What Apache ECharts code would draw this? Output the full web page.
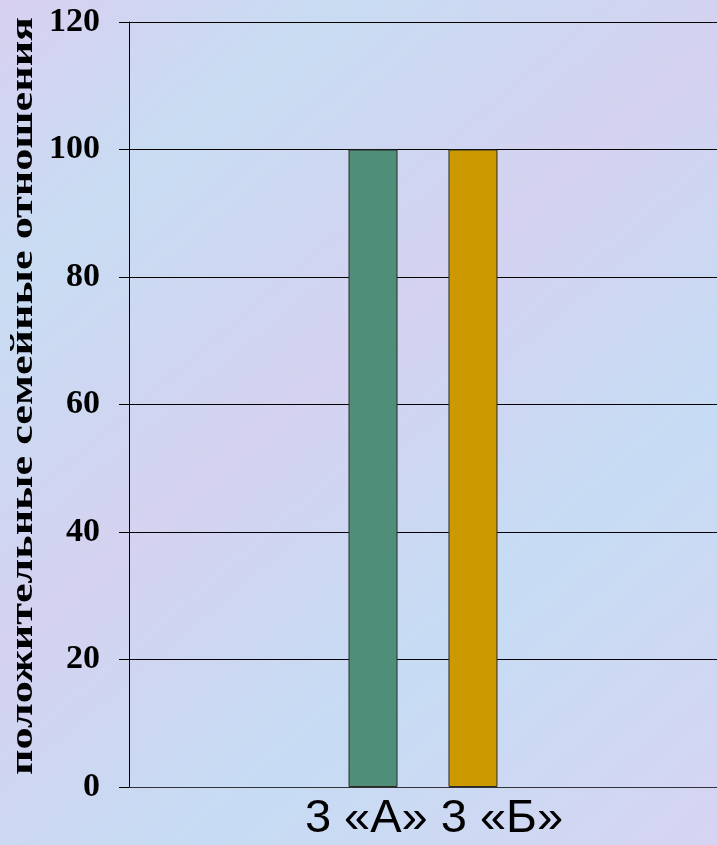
<!DOCTYPE html>
<html><head><meta charset="utf-8">
<script src="https://cdn.jsdelivr.net/npm/echarts@6/dist/echarts.min.js"></script>
<style>html,body{margin:0;padding:0;}#c{width:717px;height:845px;}</style>
</head><body><div id="c"></div>
<script>
var categories = ['3 «А» 3 «Б»'];
var seriesNames = ['3 «А»', '3 «Б»'];
var valuesA = [100];
var valuesB = [100];
var yTitle = 'положительные семейные отношения';

var chart = echarts.init(document.getElementById('c'));
chart.setOption({
  backgroundColor: {
    type: 'linear', x: 0, y: 0, x2: 1, y2: 1,
    colorStops: [
      {offset: 0, color: '#d8d0f0'},
      {offset: 0.2, color: '#c8dcf2'},
      {offset: 0.45, color: '#d4d2f0'},
      {offset: 0.7, color: '#c6dcf4'},
      {offset: 1, color: '#d6d4f2'}
    ]
  },
  animation: false,
  grid: {left: 129, right: 0, top: 22, bottom: 58},
  xAxis: {
    type: 'category',
    data: categories,
    axisLine: {lineStyle: {color: '#333', width: 1}},
    axisTick: {show: false},
    axisLabel: {color: '#000', fontFamily: 'Liberation Sans', fontSize: 47, margin: 9, padding: [0, 0, 0, 22]}
  },
  yAxis: {
    type: 'value', min: 0, max: 120, interval: 20,
    axisLine: {show: true, lineStyle: {color: '#000', width: 1}},
    axisTick: {show: true, inside: false, length: 10, lineStyle: {color: '#000'}},
    splitLine: {lineStyle: {color: '#000', width: 1}},
    axisLabel: {color: '#000', fontFamily: 'Liberation Serif', fontWeight: 'bold', fontSize: 34, margin: 29}
  },
  graphic: [{
    type: 'text',
    left: 8, top: 17,
    style: {text: yTitle, fill: '#000', font: 'bold 32px "Liberation Serif"'},
    rotation: Math.PI / 2,
    scaleX: 1.38
  }],
  series: [
    {name: seriesNames[0], type: 'bar', data: valuesA, barWidth: 49, barGap: '104%',
     itemStyle: {color: '#4f8f7a', borderColor: '#2a2a2a', borderWidth: 1}},
    {name: seriesNames[1], type: 'bar', data: valuesB, barWidth: 49,
     itemStyle: {color: '#cc9900', borderColor: '#2a2a2a', borderWidth: 1}}
  ]
});
</script>
</body></html>
